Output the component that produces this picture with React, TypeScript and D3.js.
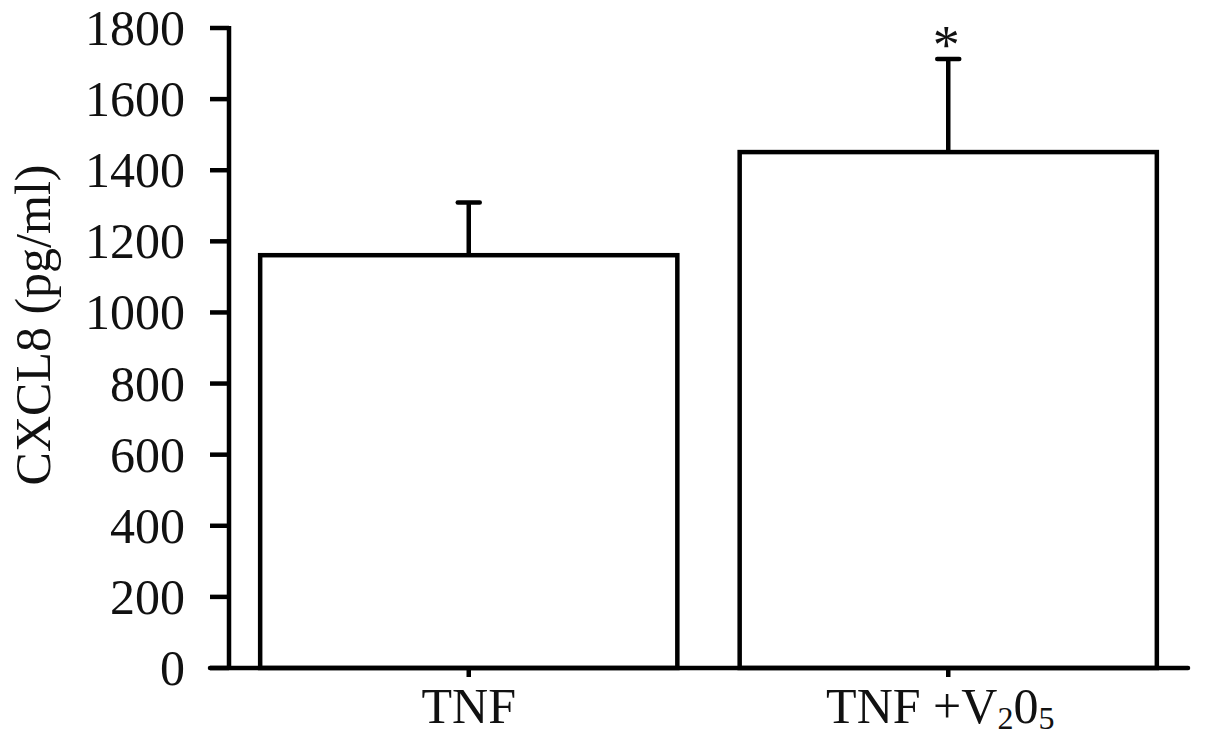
import React from "react";
import * as d3 from "d3";

const categories = ["TNF", "TNF +V205"];
const means = [1161, 1451];
const errors = [148, 262];
const significance = ["", "*"];
const yTicks = [0, 200, 400, 600, 800, 1000, 1200, 1400, 1600, 1800];

const W = 1205;
const H = 736;
const left = 229;
const right = 1188;
const top = 28;
const bottom = 668;
const FONT = "'Liberation Serif', 'Times New Roman', serif";

export default function App() {
  const x = d3
    .scaleBand<string>()
    .domain(categories)
    .range([left, right])
    .paddingInner(0.13)
    .paddingOuter(0.065);
  const y = d3.scaleLinear().domain([0, 1800]).range([bottom, top]);
  const sw = 4.5;
  const cap = 11;

  return (
    <svg
      width={W}
      height={H}
      style={{ position: "absolute", left: 0, top: 0, background: "#fff" }}
    >
      {/* bars */}
      {categories.map((c, i) => {
        const x0 = x(c)!;
        const bw = x.bandwidth();
        const cx = x0 + bw / 2;
        const yt = y(means[i]);
        const ye = y(means[i] + errors[i]);
        return (
          <g key={c}>
            <line x1={cx} x2={cx} y1={yt} y2={ye} stroke="#000" strokeWidth={sw} />
            <line
              x1={cx - cap}
              x2={cx + cap}
              y1={ye}
              y2={ye}
              stroke="#000"
              strokeWidth={sw}
              strokeLinecap="round"
            />
            <rect
              x={x0}
              y={yt}
              width={bw}
              height={bottom - yt}
              fill="#fff"
              stroke="#000"
              strokeWidth={sw}
            />
            {significance[i] && (
              <text
                x={cx - 2}
                y={ye + 4}
                textAnchor="middle"
                fontFamily={FONT}
                fontSize={54}
                fill="#111"
              >
                {significance[i]}
              </text>
            )}
            <line x1={cx} x2={cx} y1={bottom} y2={bottom + 9} stroke="#000" strokeWidth={sw} />
          </g>
        );
      })}
      {/* y axis */}
      <line x1={left} x2={left} y1={top - 2} y2={bottom + 2} stroke="#000" strokeWidth={sw} />
      {yTicks.map((t) => (
        <g key={t}>
          <line x1={left - 19} x2={left} y1={y(t)} y2={y(t)} stroke="#000" strokeWidth={sw} />
          <text
            x={left - 44}
            y={y(t) + 17}
            textAnchor="end"
            fontFamily={FONT}
            fontSize={50}
            fill="#111"
          >
            {t}
          </text>
        </g>
      ))}
      {/* x axis */}
      <line x1={left - 19} x2={right} y1={bottom} y2={bottom} stroke="#000" strokeWidth={sw} strokeLinecap="round" />
      {/* x labels */}
      <text x={x(categories[0])! + x.bandwidth() / 2} y={723} textAnchor="middle" fontFamily={FONT} fontSize={50} fill="#111">
        {categories[0]}
      </text>
      <text x={x(categories[1])! + x.bandwidth() / 2 - 8} y={723} textAnchor="middle" fontFamily={FONT} fontSize={50} fill="#111">
        <tspan>TNF +V</tspan>
        <tspan fontSize={32} dy={6}>2</tspan>
        <tspan dy={-6}>0</tspan>
        <tspan fontSize={32} dy={6}>5</tspan>
      </text>
      {/* y label */}
      <text
        transform={`translate(50, ${(157 + 493) / 2}) rotate(-90)`}
        textAnchor="middle"
        fontFamily={FONT}
        fontSize={50}
        fill="#111"
      >
        CXCL8 (pg/ml)
      </text>
    </svg>
  );
}
